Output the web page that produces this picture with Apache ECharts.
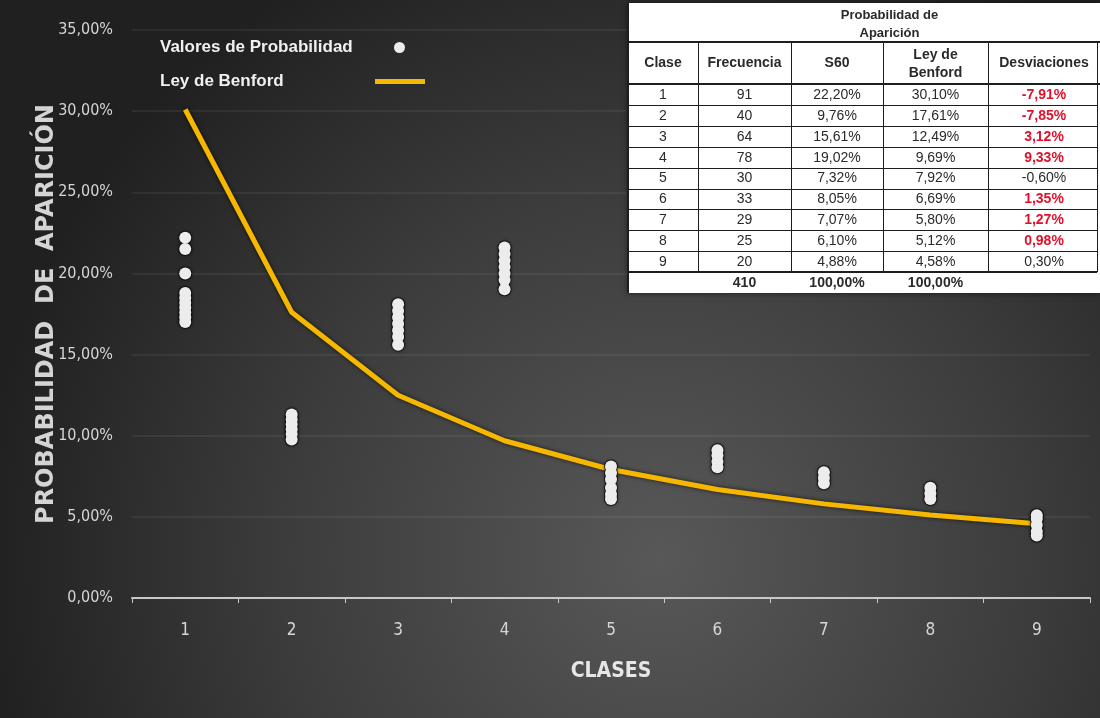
<!DOCTYPE html>
<html lang="es">
<head>
<meta charset="utf-8">
<title>Ley de Benford - Probabilidad de Aparición</title>
<script src="https://cdn.jsdelivr.net/npm/echarts@6/dist/echarts.min.js"></script>
<style>
  html, body { margin: 0; padding: 0; background: #2a2a2a; }
  #chart { width: 1100px; height: 718px; }
</style>
</head>
<body>
<div id="chart"></div>
<script>
// ---- Datos ----
const clases = ['1', '2', '3', '4', '5', '6', '7', '8', '9'];

// Valores de probabilidad observados (%) por clase
const valoresClase1 = [22.2, 21.5, 20.0, 18.8, 18.5, 18.2, 17.9, 17.6, 17.3, 17.0];
const valoresClase2 = [11.3, 11.0, 10.7, 10.4, 10.1, 9.76];
const valoresClase3 = [18.1, 17.7, 17.3, 16.9, 16.5, 16.1, 15.61];
const valoresClase4 = [21.6, 21.2, 20.8, 20.4, 20.0, 19.6, 19.02];
const valoresClase5 = [8.1, 7.7, 7.32, 6.8, 6.4, 6.1];
const valoresClase6 = [9.1, 8.8, 8.4, 8.05];
const valoresClase7 = [7.75, 7.4, 7.07];
const valoresClase8 = [6.8, 6.45, 6.10];
const valoresClase9 = [5.1, 4.88, 4.5, 4.1, 3.85];

// Ley de Benford (%)
const leyBenford = [30.10, 17.61, 12.49, 9.69, 7.92, 6.69, 5.80, 5.12, 4.58];

// Tabla resumen
const frecuencia = [91, 40, 64, 78, 30, 33, 29, 25, 20];
const s60 = [22.20, 9.76, 15.61, 19.02, 7.32, 8.05, 7.07, 6.10, 4.88];
const desviaciones = [-7.91, -7.85, 3.12, 9.33, -0.60, 1.35, 1.27, 0.98, 0.30];
const resaltar = [true, true, true, true, false, true, true, true, false];
const totalFrecuencia = 410;
const totalS60 = 100.00;
const totalBenford = 100.00;

const ticksY = { min: 0, max: 35, interval: 5 };

// ---- Utilidades ----
const fmt = v => v.toFixed(2).replace('.', ',') + '%';
const narrow = "'Liberation Sans Narrow', 'DejaVu Sans Condensed', 'Liberation Sans', sans-serif";
const sans = "'Liberation Sans', Arial, sans-serif";
const medidor = document.createElement('canvas').getContext('2d');
function anchoTexto(s, font) { medidor.font = font; return medidor.measureText(s).width; }

const valoresPorClase = [valoresClase1, valoresClase2, valoresClase3, valoresClase4,
  valoresClase5, valoresClase6, valoresClase7, valoresClase8, valoresClase9];
const puntos = [];
valoresPorClase.forEach((lista, i) => lista.forEach(v => puntos.push([i, v])));

// ---- Tabla (graphic) ----
const colX = [628, 698, 791, 883, 988, 1100];
const tTop = 3, hdrBottom = 42, colHdrBottom = 84, rowH = 20.9;
const dataBottom = colHdrBottom + rowH * clases.length;
const tBottom = dataBottom + 21;
const cx = i => (colX[i] + colX[i + 1]) / 2;

function txt(text, x, y, font, fill) {
  return {
    type: 'text', z: 100, x: x, y: y,
    style: { text: text, font: font, fill: fill || '#2a2a2a',
      align: 'center', verticalAlign: 'middle', textAlign: 'center', textVerticalAlign: 'middle' }
  };
}
function ln(x1, y1, x2, y2, w) {
  return { type: 'line', z: 100, shape: { x1, y1, x2, y2 }, style: { stroke: '#1e1e1e', lineWidth: w || 1 } };
}

const tabla = [];
tabla.push({ type: 'rect', z: 99, shape: { x: colX[0], y: tTop, width: colX[5] - colX[0], height: tBottom - tTop },
  style: { fill: '#ffffff', shadowColor: 'rgba(0,0,0,0.6)', shadowBlur: 6 } });
tabla.push(ln(colX[0], tTop, colX[0], tBottom, 2));
tabla.push(ln(colX[0], hdrBottom, 1100, hdrBottom, 2));
tabla.push(ln(colX[0], colHdrBottom, 1100, colHdrBottom, 2));
for (let r = 1; r < clases.length; r++) {
  const y = Math.round(colHdrBottom + r * rowH) + 0.5;
  tabla.push(ln(colX[0], y, 1097, y, 1));
}
tabla.push(ln(colX[0], dataBottom, 1097, dataBottom, 2));
for (let c = 1; c < 5; c++) {
  tabla.push(ln(colX[c] + 0.5, hdrBottom, colX[c] + 0.5, dataBottom, 1));
}
tabla.push(ln(1097.5, hdrBottom, 1097.5, dataBottom, 1));

const fh = 'bold 14px ' + sans;
const fb = 'bold 14px ' + sans;
const fn = '14px ' + sans;
tabla.push(txt('Probabilidad de', (colX[2] + colX[4]) / 2, 15, 'bold 13px ' + sans));
tabla.push(txt('Aparición', (colX[2] + colX[4]) / 2, 33, 'bold 13px ' + sans));
tabla.push(txt('Clase', cx(0), 63, fh));
tabla.push(txt('Frecuencia', cx(1), 63, fh));
tabla.push(txt('S60', cx(2), 63, fh));
tabla.push(txt('Ley de', cx(3), 55, fh));
tabla.push(txt('Benford', cx(3), 73, fh));
tabla.push(txt('Desviaciones', cx(4), 63, fh));
clases.forEach((c, i) => {
  const y = colHdrBottom + rowH * (i + 0.5) + 0.5;
  tabla.push(txt(c, cx(0), y, fn));
  tabla.push(txt(String(frecuencia[i]), cx(1), y, fn));
  tabla.push(txt(fmt(s60[i]), cx(2), y, fn));
  tabla.push(txt(fmt(leyBenford[i]), cx(3), y, fn));
  tabla.push(txt(fmt(desviaciones[i]), cx(4), y,
    resaltar[i] ? fb : fn, resaltar[i] ? '#e0102a' : '#2a2a2a'));
});
const yTot = dataBottom + 11;
tabla.push(txt(String(totalFrecuencia), cx(1), yTot, fb));
tabla.push(txt(fmt(totalS60), cx(2), yTot, fb));
tabla.push(txt(fmt(totalBenford), cx(3), yTot, fb));

// ---- Leyenda: texto a la izquierda, icono alineado en columna ----
const fuenteLeyenda = 'bold 17px ' + sans;
const nombreValores = 'Valores de Probabilidad';
const nombreBenford = 'Ley de Benford';
const relleno1 = Math.max(0, 229 - anchoTexto(nombreValores, fuenteLeyenda));
const relleno2 = Math.max(0, 210 - anchoTexto(nombreBenford, fuenteLeyenda));
const estiloLeyenda = (relleno) => ({
  color: '#f0f0f0', fontSize: 17, fontWeight: 'bold', fontFamily: sans, padding: [0, relleno, 0, 0]
});

// ---- Gráfico ----
const chart = echarts.init(document.getElementById('chart'));
const option = {
  backgroundColor: {
    type: 'radial', x: 0.6, y: 0.78, r: 0.95,
    colorStops: [
      { offset: 0, color: '#585858' },
      { offset: 0.55, color: '#3c3c3c' },
      { offset: 1, color: '#202020' }
    ]
  },
  animation: false,
  grid: { left: 132, right: 10, top: 30, bottom: 120 },
  legend: [
    {
      data: [{ name: nombreValores, icon: 'circle' }],
      left: 160, top: 39, align: 'right', padding: 0,
      itemWidth: 11, itemHeight: 11,
      itemStyle: { borderWidth: 0, shadowBlur: 0 },
      textStyle: estiloLeyenda(relleno1)
    },
    {
      data: [{ name: nombreBenford, icon: 'rect' }],
      left: 160, top: 73, align: 'right', padding: 0,
      itemWidth: 50, itemHeight: 5,
      itemStyle: { shadowBlur: 0 },
      textStyle: estiloLeyenda(relleno2)
    }
  ],
  xAxis: {
    type: 'category',
    data: clases,
    boundaryGap: true,
    name: 'CLASES',
    nameLocation: 'middle',
    nameGap: 63,
    nameTextStyle: { color: '#e6e6e6', fontSize: 21, fontWeight: 'bold', fontFamily: narrow },
    axisLine: { lineStyle: { color: '#c8c8c8', width: 2 } },
    axisTick: { show: true, length: 5, lineStyle: { color: '#c8c8c8', width: 1 } },
    axisLabel: { color: '#d6d6d6', fontSize: 17, fontFamily: narrow, margin: 24 },
    splitLine: { show: false }
  },
  yAxis: {
    type: 'value',
    min: ticksY.min, max: ticksY.max, interval: ticksY.interval,
    name: 'PROBABILIDAD  DE  APARICIÓN',
    nameLocation: 'middle',
    nameGap: 73,
    nameMoveOverlap: false,
    nameRotate: 90,
    nameTextStyle: { color: '#d4d4d4', fontSize: 24, fontWeight: 'bold', fontFamily: "'DejaVu Sans', sans-serif" },
    axisLine: { show: false },
    axisTick: { show: false },
    axisLabel: { color: '#d6d6d6', fontSize: 16, fontFamily: narrow, margin: 19, formatter: v => fmt(v) },
    splitLine: { show: true, lineStyle: { color: 'rgba(255,255,255,0.06)', width: 2 } }
  },
  series: [
    {
      name: nombreBenford,
      type: 'line',
      data: leyBenford,
      symbol: 'none',
      z: 2,
      itemStyle: { color: '#f5b700' },
      lineStyle: { color: '#f5b700', width: 5, shadowColor: 'rgba(0,0,0,0.7)', shadowBlur: 4 }
    },
    {
      // contorno oscuro de los puntos, dibujado debajo de ellos
      name: 'contorno',
      type: 'scatter',
      data: puntos,
      symbol: 'circle',
      symbolSize: 14,
      z: 3,
      silent: true,
      itemStyle: { color: 'rgba(10,10,10,0.85)', shadowColor: 'rgba(0,0,0,0.6)', shadowBlur: 3 }
    },
    {
      name: nombreValores,
      type: 'scatter',
      data: puntos,
      symbol: 'circle',
      symbolSize: 12,
      z: 4,
      itemStyle: { color: '#ececec', borderWidth: 0, opacity: 1 }
    }
  ],
  graphic: { elements: tabla }
};
chart.setOption(option);
</script>
</body>
</html>
